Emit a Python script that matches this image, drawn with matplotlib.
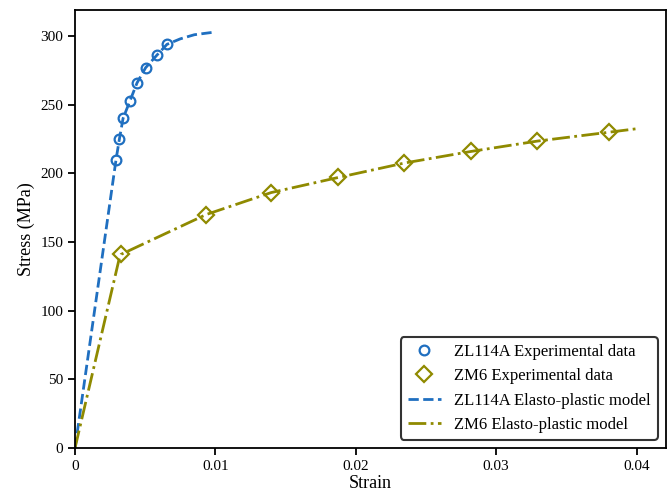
import matplotlib
matplotlib.use("Agg")
import matplotlib.pyplot as plt
from matplotlib.ticker import FuncFormatter

plt.rcParams['font.family'] = ['Liberation Serif', 'DejaVu Serif']

# ZL114A experimental data
zl_strain = [0.00292, 0.00316, 0.00342, 0.00392, 0.00442, 0.00503, 0.00582, 0.00655]
zl_stress = [210, 225, 240, 253, 266, 277, 286, 294]
# ZL114A elasto-plastic model
zl_m_strain = [0.0, 0.00292, 0.00316, 0.00342, 0.00392, 0.00442, 0.00503, 0.00582, 0.00655, 0.0075, 0.0085, 0.0100]
zl_m_stress = [0, 210, 225, 240, 253, 266, 277, 286, 294, 298, 301, 303]

# ZM6 experimental data
zm_strain = [0.00328, 0.00934, 0.01397, 0.01875, 0.02345, 0.02823, 0.03293, 0.03806]
zm_stress = [141, 170, 186, 197, 207.5, 216, 223.5, 230]
# ZM6 elasto-plastic model
zm_m_strain = [0.0, 0.00315, 0.00328, 0.00934, 0.01397, 0.01875, 0.02345, 0.02823, 0.03293, 0.03806, 0.0400]
zm_m_stress = [0, 138, 141, 170, 186, 197, 207.5, 216, 223.5, 230, 232.5]

blue = '#1f6fc0'
olive = '#8f8a00'

fig = plt.figure(figsize=(6.70, 5.01), dpi=100)
ax = fig.add_axes([0.112, 0.106, 0.882, 0.874])

ax.plot(zl_strain, zl_stress, linestyle='none', marker='o', markersize=7,
        markerfacecolor='none', markeredgecolor=blue, markeredgewidth=1.6,
        label='ZL114A Experimental data', zorder=3)
ax.plot(zm_strain, zm_stress, linestyle='none', marker='D', markersize=8,
        markerfacecolor='none', markeredgecolor=olive, markeredgewidth=1.6,
        label='ZM6 Experimental data', zorder=3)
ax.plot(zl_m_strain, zl_m_stress, linestyle='--', color=blue, linewidth=2,
        label='ZL114A Elasto-plastic model', zorder=2)
ax.plot(zm_m_strain, zm_m_stress, linestyle='-.', color=olive, linewidth=2,
        label='ZM6 Elasto-plastic model', zorder=2)

ax.set_xlim(0, 0.0421)
ax.set_ylim(0, 319)
ax.set_xticks([0, 0.01, 0.02, 0.03, 0.04])
ax.set_yticks([0, 50, 100, 150, 200, 250, 300])
ax.xaxis.set_major_formatter(FuncFormatter(lambda v, p: '0' if v == 0 else f'{v:g}'))
ax.tick_params(labelsize=11, width=1.3, length=5)
for s in ax.spines.values():
    s.set_linewidth(1.3)

ax.set_xlabel('Strain', fontsize=13, labelpad=2)
ax.set_ylabel('Stress (MPa)', fontsize=13)

leg = ax.legend(loc='lower right', fontsize=12, frameon=True, fancybox=True,
                edgecolor='#333333', framealpha=1, handlelength=2.0,
                labelspacing=0.5, borderaxespad=0.5)
leg.get_frame().set_linewidth(1.5)

fig.savefig('out.png', dpi=100)
